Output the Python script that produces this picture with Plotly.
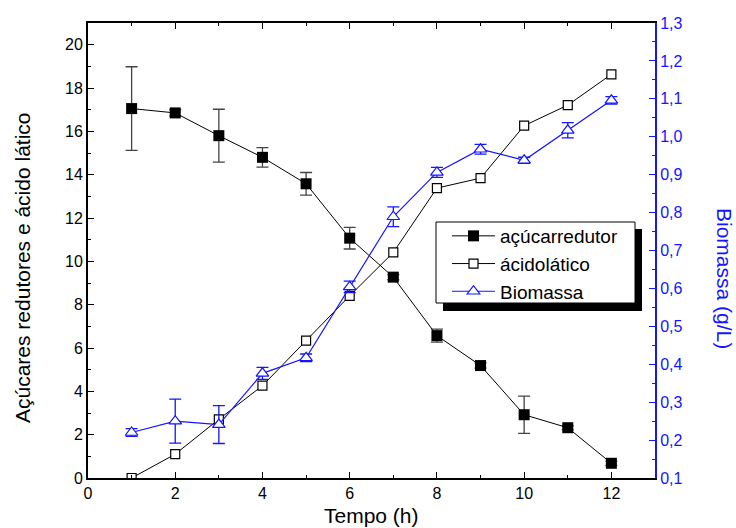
import plotly.graph_objects as go

# Time points (h)
tempo = [1, 2, 3, 4, 5, 6, 7, 8, 9, 10, 11, 12]

# Reducing sugars (left axis) and its standard deviation
acucar_redutor = [17.05, 16.85, 15.8, 14.8, 13.58, 11.07, 9.27, 6.57, 5.19, 2.92, 2.32, 0.68]
acucar_dp = [1.93, 0.15, 1.22, 0.45, 0.52, 0.5, 0.12, 0.3, 0.12, 0.86, 0.1, 0.1]

# Lactic acid (left axis)
acido_latico = [0.0, 1.1, 2.71, 4.26, 6.34, 8.41, 10.41, 13.38, 13.84, 16.26, 17.21, 18.63]

# Biomass (right axis, g/L) and its standard deviation
biomassa = [0.22, 0.25, 0.241, 0.376, 0.417, 0.604, 0.789, 0.906, 0.967, 0.938, 1.017, 1.096]
biomassa_dp = [0.01, 0.058, 0.05, 0.016, 0.01, 0.015, 0.026, 0.013, 0.013, 0.008, 0.02, 0.01]

BLUE = "#1515ff"
FONT = "Liberation Sans, Arial, sans-serif"

fig = go.Figure()

fig.add_trace(go.Scatter(
    x=tempo, y=acucar_redutor, name="açúcarredutor",
    mode="lines+markers",
    line=dict(color="black", width=1),
    marker=dict(symbol="square", size=11, color="black"),
    error_y=dict(type="data", array=acucar_dp, visible=True,
                 color="#444444", thickness=1.3, width=6),
))

fig.add_trace(go.Scatter(
    x=tempo, y=acido_latico, name="ácidolático",
    mode="lines+markers",
    line=dict(color="black", width=1),
    marker=dict(symbol="square", size=9, color="white",
                line=dict(width=1.2, color="black")),
))

fig.add_trace(go.Scatter(
    x=tempo, y=biomassa, name="Biomassa", yaxis="y2",
    mode="lines+markers",
    line=dict(color=BLUE, width=1.2),
    marker=dict(symbol="triangle-up", size=11, color="white",
                line=dict(width=1.2, color=BLUE)),
    error_y=dict(type="data", array=biomassa_dp, visible=True,
                 color=BLUE, thickness=1.3, width=6),
))

L, R, T, B = 88, 81, 23, 50
W, H = 736, 528
pw, ph = W - L - R, H - T - B


def px_x(p):
    return (p - L) / pw


def px_y(p):
    return (H - B - p) / ph


fig.update_layout(
    width=W, height=H,
    margin=dict(l=L, r=R, t=T, b=B),
    paper_bgcolor="white", plot_bgcolor="white",
    separators=",.",
    font=dict(family=FONT, size=16, color="black"),
    showlegend=True,
    xaxis=dict(
        range=[0, 13], dtick=2, tick0=0,
        showgrid=False, zeroline=False,
        showline=True, linecolor="black", linewidth=2, mirror="ticks",
        ticks="inside", ticklen=6, tickwidth=1, tickcolor="black",
        minor=dict(dtick=1, ticks="inside", ticklen=3, tickcolor="black"),
        tickfont=dict(size=16),
    ),
    yaxis=dict(
        range=[0, 21], dtick=2, tick0=0,
        showgrid=False, zeroline=False,
        showline=True, linecolor="black", linewidth=2,
        ticks="inside", ticklen=6, tickwidth=1, tickcolor="black",
        minor=dict(dtick=1, ticks="inside", ticklen=3, tickcolor="black"),
        tickfont=dict(size=16),
    ),
    yaxis2=dict(
        range=[0.1, 1.3], dtick=0.1, tick0=0.1, tickformat=".1f",
        overlaying="y", side="right",
        showgrid=False, zeroline=False,
        showline=True, linecolor=BLUE, linewidth=2,
        ticks="inside", ticklen=6, tickwidth=1, tickcolor=BLUE,
        minor=dict(dtick=0.05, ticks="inside", ticklen=3, tickcolor=BLUE),
        tickfont=dict(size=16, color=BLUE),
    ),
    legend=dict(
        x=px_x(447), y=px_y(217), xanchor="left", yanchor="top",
        bgcolor="rgba(0,0,0,0)", borderwidth=0,
        font=dict(size=19, family=FONT),
        itemwidth=43,
    ),
    annotations=[
        dict(text="Açúcares redutores e ácido lático", textangle=-90,
             x=px_x(22), y=px_y(268), xref="paper", yref="paper",
             xanchor="center", yanchor="middle",
             showarrow=False, font=dict(size=21)),
        dict(text="Biomassa (g/L)", textangle=90,
             x=px_x(725), y=px_y(278), xref="paper", yref="paper",
             xanchor="center", yanchor="middle",
             showarrow=False, font=dict(size=21, color=BLUE)),
        dict(text="Tempo (h)",
             x=px_x(371), y=px_y(515), xref="paper", yref="paper",
             xanchor="center", yanchor="middle",
             showarrow=False, font=dict(size=21)),
    ],
    shapes=[
        # legend frame: drop shadow, then white box with black border
        dict(type="rect", xref="paper", yref="paper", layer="above",
             x0=px_x(443), x1=px_x(642), y0=px_y(311), y1=px_y(229),
             fillcolor="black", line=dict(width=0)),
        dict(type="rect", xref="paper", yref="paper", layer="above",
             x0=px_x(436), x1=px_x(635), y0=px_y(303), y1=px_y(222),
             fillcolor="white", line=dict(width=1, color="black")),
    ],
)

fig.write_html("out.html")
